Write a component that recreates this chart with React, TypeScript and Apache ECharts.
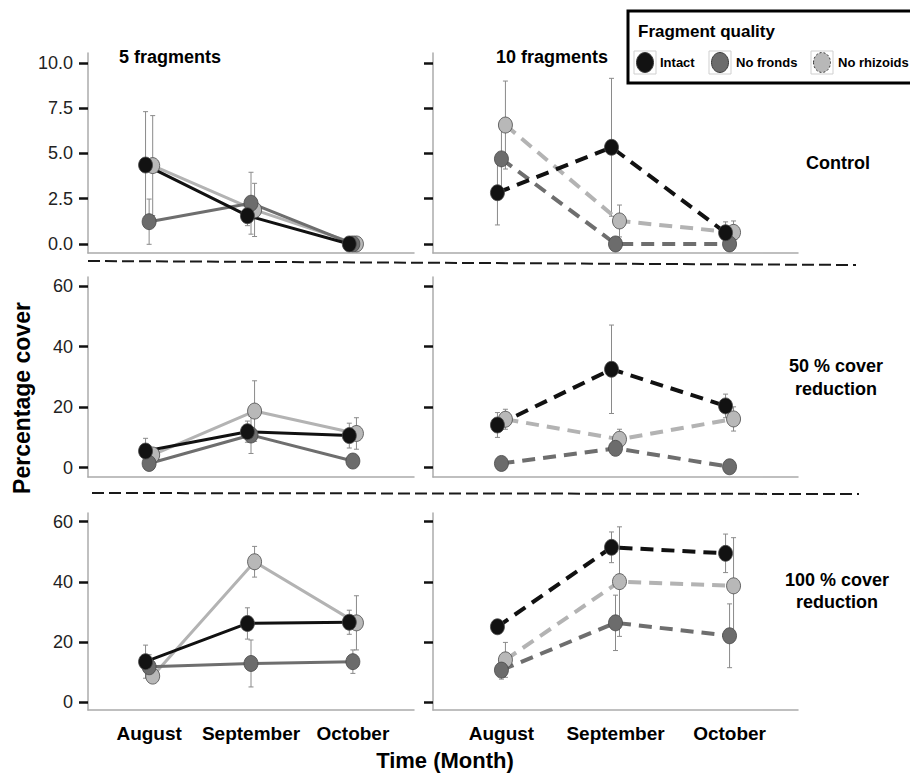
import React, { useEffect, useRef } from 'react';
import * as echarts from 'echarts';

// ---------- data ----------
const months = ['August', 'September', 'October'];
const seriesNames = ['Intact', 'No fronds', 'No rhizoids'];
const monthIndex = [0, 1, 2];
const controlTicks = [0, 2.5, 5, 7.5, 10];
const coverTicks = [0, 20, 40, 60];

// Control, 5 fragments
const ctrl5Intact = [4.36, 1.56, 0.0];
const ctrl5IntactErr = [2.95, 0.55, 0];
const ctrl5NoFronds = [1.23, 2.25, 0.0];
const ctrl5NoFrondsErr = [1.25, 1.71, 0];
const ctrl5NoRhizoids = [4.33, 1.88, 0.0];
const ctrl5NoRhizoidsErr = [2.76, 1.47, 0];

// Control, 10 fragments
const ctrl10Intact = [2.83, 5.34, 0.62];
const ctrl10IntactErr = [1.78, 3.81, 0.6];
const ctrl10NoFronds = [4.7, 0.0, 0.0];
const ctrl10NoFrondsErr = [1.7, 0, 0];
const ctrl10NoRhizoids = [6.57, 1.27, 0.64];
const ctrl10NoRhizoidsErr = [2.43, 0.88, 0.63];

// 50 % cover reduction, 5 fragments
const half5Intact = [5.5, 11.9, 10.6];
const half5IntactErr = [4.2, 3.5, 4.1];
const half5NoFronds = [1.4, 10.8, 2.2];
const half5NoFrondsErr = [1.0, 6.1, 0.8];
const half5NoRhizoids = [4.2, 18.7, 11.3];
const half5NoRhizoidsErr = [1.5, 10.0, 5.2];

// 50 % cover reduction, 10 fragments
const half10Intact = [14.1, 32.5, 20.4];
const half10IntactErr = [4.1, 14.6, 3.9];
const half10NoFronds = [1.4, 6.4, 0.3];
const half10NoFrondsErr = [0.8, 1.5, 0.3];
const half10NoRhizoids = [16.0, 9.4, 16.1];
const half10NoRhizoidsErr = [3.3, 3.3, 4.0];

// 100 % cover reduction, 5 fragments
const full5Intact = [13.5, 26.2, 26.6];
const full5IntactErr = [5.5, 5.2, 4.0];
const full5NoFronds = [11.8, 12.9, 13.5];
const full5NoFrondsErr = [4.0, 7.8, 3.9];
const full5NoRhizoids = [8.7, 46.7, 26.4];
const full5NoRhizoidsErr = [1.5, 5.1, 9.0];

// 100 % cover reduction, 10 fragments
const full10Intact = [25.1, 51.5, 49.5];
const full10IntactErr = [1.5, 5.1, 6.4];
const full10NoFronds = [10.7, 26.4, 22.1];
const full10NoFrondsErr = [3.0, 9.2, 10.6];
const full10NoRhizoids = [14.1, 40.1, 38.7];
const full10NoRhizoidsErr = [5.8, 18.2, 16.0];

// ---------- layout / styles ----------
const FONT = '"Liberation Sans", Arial, sans-serif';
const dodge = [-0.035, 0, 0.035];
const fills = ['#121212', '#6c6c6c', '#b8b8b8'];
const lineColors = ['#111111', '#6e6e6e', '#b3b3b3'];
const colLeft = [88, 433];
const colWidth = [326, 365];
const rowTop = [53, 277, 513];
const rowHeight = [200, 200, 197];
const rowY = [
  { min: -0.5, max: 10.55, ticks: controlTicks, dec: 1 },
  { min: -3.07, max: 62.97, ticks: coverTicks, dec: 0 },
  { min: -2.56, max: 62.9, ticks: coverTicks, dec: 0 },
];

const panels = [
  { row: 0, col: 0, vals: [ctrl5Intact, ctrl5NoFronds, ctrl5NoRhizoids], errs: [ctrl5IntactErr, ctrl5NoFrondsErr, ctrl5NoRhizoidsErr] },
  { row: 0, col: 1, vals: [ctrl10Intact, ctrl10NoFronds, ctrl10NoRhizoids], errs: [ctrl10IntactErr, ctrl10NoFrondsErr, ctrl10NoRhizoidsErr] },
  { row: 1, col: 0, vals: [half5Intact, half5NoFronds, half5NoRhizoids], errs: [half5IntactErr, half5NoFrondsErr, half5NoRhizoidsErr] },
  { row: 1, col: 1, vals: [half10Intact, half10NoFronds, half10NoRhizoids], errs: [half10IntactErr, half10NoFrondsErr, half10NoRhizoidsErr] },
  { row: 2, col: 0, vals: [full5Intact, full5NoFronds, full5NoRhizoids], errs: [full5IntactErr, full5NoFrondsErr, full5NoRhizoidsErr] },
  { row: 2, col: 1, vals: [full10Intact, full10NoFronds, full10NoRhizoids], errs: [full10IntactErr, full10NoFrondsErr, full10NoRhizoidsErr] },
];

function buildOption() {
  const grid: any[] = [];
  const xAxis: any[] = [];
  const yAxis: any[] = [];
  const series: any[] = [];

  panels.forEach((p, i) => {
    const ry = rowY[p.row];
    grid.push({ left: colLeft[p.col], top: rowTop[p.row], width: colWidth[p.col], height: rowHeight[p.row] });
    xAxis.push({
      type: 'value',
      gridIndex: i,
      min: -0.6,
      max: 2.6,
      splitLine: { show: false },
      axisTick: { show: false },
      axisLine: { show: true, onZero: false, lineStyle: { color: '#ababab', width: 1.5 } },
      axisLabel: {
        show: p.row === 2,
        customValues: monthIndex,
        formatter: (v: number) => months[Math.round(v)] ?? '',
        margin: 14,
        color: '#000',
        fontFamily: FONT,
        fontWeight: 'bold',
        fontSize: 19,
      },
    });
    yAxis.push({
      type: 'value',
      gridIndex: i,
      min: ry.min,
      max: ry.max,
      splitLine: { show: false },
      axisLine: { show: true, onZero: false, lineStyle: { color: '#ababab', width: 1.5 } },
      axisTick: { show: true, customValues: ry.ticks, length: 9, lineStyle: { color: '#111', width: 2.5 } },
      axisLabel: {
        show: p.col === 0,
        customValues: ry.ticks,
        formatter: (v: number) => v.toFixed(ry.dec),
        margin: 15,
        color: '#222',
        fontFamily: FONT,
        fontSize: 18,
      },
    });

    // error bars (drawn below)
    [2, 1, 0].forEach((s) => {
      const vals = p.vals[s];
      const errs = p.errs[s];
      const data = monthIndex
        .filter((j) => errs[j] > 0)
        .map((j) => [j + dodge[s], vals[j] - errs[j], vals[j] + errs[j]]);
      series.push({
        type: 'custom',
        xAxisIndex: i,
        yAxisIndex: i,
        z: 1,
        silent: true,
        encode: { x: 0, y: [1, 2] },
        data,
        renderItem: (_params: any, api: any) => {
          const x = api.value(0);
          const lo = api.value(1);
          const hi = api.value(2);
          const a = api.coord([x, hi]);
          const b = api.coord([x, lo]);
          const cap = 2.5;
          const st = { stroke: '#8a8a8a', lineWidth: 1 };
          return {
            type: 'group',
            children: [
              { type: 'line', shape: { x1: a[0], y1: a[1], x2: b[0], y2: b[1] }, style: st },
              { type: 'line', shape: { x1: a[0] - cap, y1: a[1], x2: a[0] + cap, y2: a[1] }, style: st },
              { type: 'line', shape: { x1: b[0] - cap, y1: b[1], x2: b[0] + cap, y2: b[1] }, style: st },
            ],
          };
        },
      });
    });

    // lines + markers: No rhizoids, No fronds, Intact (Intact on top)
    [2, 1, 0].forEach((s) => {
      series.push({
        type: 'line',
        name: seriesNames[s],
        xAxisIndex: i,
        yAxisIndex: i,
        z: 2,
        data: monthIndex.map((j) => [j + dodge[s], p.vals[s][j]]),
        symbol: 'circle',
        symbolSize: [14, 16],
        showSymbol: true,
        itemStyle: { color: fills[s], borderColor: '#4a4a4a', borderWidth: 0.8 },
        lineStyle: {
          color: lineColors[s],
          width: p.col === 0 ? 3 : 4,
          type: p.col === 0 ? 'solid' : [13, 8],
        },
        emphasis: { disabled: true },
      });
    });
  });

  const boldText = (text: string, x: number, y: number, size: number, extra: any = {}) => ({
    type: 'text',
    x,
    y,
    silent: true,
    ...extra,
    style: {
      text,
      fill: '#000',
      font: `bold ${size}px ${FONT}`,
      align: 'center',
      verticalAlign: 'middle',
      textAlign: 'center',
      textVerticalAlign: 'middle',
    },
  });

  const legendKey = (cx: number, fill: string, dashed: boolean) => ([
    { type: 'rect', shape: { x: cx - 11, y: 51, width: 22, height: 23 }, style: { fill: '#fff', stroke: '#cfcfcf', lineWidth: 1 }, silent: true },
    { type: 'ellipse', shape: { cx, cy: 62.5, rx: 8.5, ry: 10 }, style: { fill, stroke: '#3a3a3a', lineWidth: 1, lineDash: dashed ? [2, 2] : null }, silent: true },
  ]);

  const graphic: any[] = [
    // separators
    { type: 'line', shape: { x1: 88, y1: 261, x2: 856, y2: 265 }, style: { stroke: '#1a1a1a', lineWidth: 2, lineDash: [12, 5] }, silent: true },
    { type: 'line', shape: { x1: 92, y1: 493, x2: 859, y2: 494 }, style: { stroke: '#1a1a1a', lineWidth: 2, lineDash: [12, 5] }, silent: true },
    // column titles
    boldText('5 fragments', 170, 57, 18),
    boldText('10 fragments', 552, 57, 18),
    // row labels
    boldText('Control', 838, 163, 18),
    boldText('50 % cover', 836, 366, 18),
    boldText('reduction', 836, 389, 18),
    boldText('100 % cover', 837, 580, 18),
    boldText('reduction', 837, 602, 18),
    // axis titles
    boldText('Time (Month)', 445, 760, 22),
    boldText('Percentage cover', 22, 398, 23, { rotation: Math.PI / 2 }),
    // legend
    { type: 'rect', shape: { x: 628, y: 11, width: 300, height: 72 }, style: { fill: '#fff', stroke: '#000', lineWidth: 3 }, silent: true },
    {
      type: 'text', x: 638, y: 31, silent: true,
      style: { text: 'Fragment quality', fill: '#000', font: `bold 17px ${FONT}`, align: 'left', verticalAlign: 'middle', textAlign: 'left', textVerticalAlign: 'middle' },
    },
    ...legendKey(645, fills[0], false),
    ...legendKey(720, fills[1], false),
    ...legendKey(822, fills[2], true),
    ...[
      { t: seriesNames[0], x: 660 },
      { t: seriesNames[1], x: 736 },
      { t: seriesNames[2], x: 838 },
    ].map((it) => ({
      type: 'text', x: it.x, y: 62, silent: true,
      style: { text: it.t, fill: '#000', font: `bold 13px ${FONT}`, align: 'left', verticalAlign: 'middle', textAlign: 'left', textVerticalAlign: 'middle' },
    })),
  ];

  return {
    animation: false,
    backgroundColor: '#fff',
    grid,
    xAxis,
    yAxis,
    series,
    graphic,
  };
}

export default function App() {
  const ref = useRef<HTMLDivElement>(null);
  useEffect(() => {
    document.body.style.margin = '0';
    if (!ref.current) return;
    const chart = echarts.init(ref.current, undefined, { renderer: 'svg' });
    chart.setOption(buildOption() as any);
    return () => chart.dispose();
  }, []);
  return <div ref={ref} style={{ width: 910, height: 774 }} />;
}
